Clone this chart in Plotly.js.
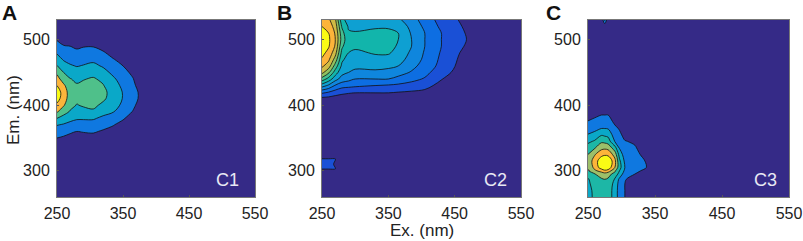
<!DOCTYPE html>
<html><head><meta charset="utf-8">
<script src="https://cdn.plot.ly/plotly-3.0.1.min.js"></script>
<style>html,body{margin:0;padding:0;background:#fff}#p{width:803px;height:241px}</style></head>
<body><div id="p"></div>
<script>
const xTicks=[250,350,450,550], yTicks=[300,400,500];
const panelLetters=['A','B','C'], componentNames=['C1','C2','C3'];

// C1: excitation columns, emission rows
const c1Ex=[250,260,270,280,290,305,320,335,350,365,375,550];
const c1Em=[260,340,350,360,370,380,390,400,410,420,430,440,450,460,470,480,490,500,510,530];
const c1Cols=[
[0,.6,1,1.5,2.05,3,4.1,4.8,5.4,5.5,5,4.4,3.8,3.05,2.4,1.9,1.3,.95,.6,0],
[0,.4,.85,1.4,1.9,2.6,3.4,4.1,4.5,4.6,4.2,3.5,3,2.4,1.9,1.5,1.05,.7,.4,0],
[0,.4,.8,1.1,1.7,2.3,2.9,3.3,3.5,3.5,3.3,3.05,2.5,2.1,1.7,1.3,1,.7,.4,0],
[0,.4,.7,1,1.6,2.1,2.6,2.95,3.2,3.2,3.1,2.8,2.4,1.95,1.6,1.2,.85,.6,.3,0],
[0,.4,.7,1.05,1.6,2.1,2.7,3.1,3.3,3.4,3.2,2.95,2.5,2.05,1.7,1.3,.95,.6,.3,0],
[0,.4,.7,1.1,1.6,2.1,2.85,3.2,3.4,3.5,3.4,3.1,2.7,2.2,1.8,1.4,.95,.6,.3,0],
[0,.3,.6,.9,1.3,1.8,2.3,2.8,3.15,3.25,3.05,2.8,2.3,1.9,1.5,1.1,.7,.4,.2,0],
[0,.1,.4,.7,1.05,1.5,2.05,2.4,2.6,2.6,2.4,2.15,1.8,1.4,1.05,.7,.4,.2,0,0],
[0,0,.2,.4,.7,1.1,1.5,1.8,1.95,1.95,1.8,1.6,1.3,1,.7,.4,.2,0,0,0],
[0,0,0,.2,.4,.6,.95,1.2,1.35,1.35,1.2,1.05,.8,.5,.3,.1,0,0,0,0],
[0,0,0,0,.1,.3,.5,.7,.9,.9,.7,.5,.3,.1,0,0,0,0,0,0],
[0,0,0,0,0,0,0,0,0,0,0,0,0,0,0,0,0,0,0,0]];
const c1Colors=['#352a87','#0f78e0','#0aa8c8','#4fc08a','#fbb53b','#f9fb15'];

// C2
const c2Ex=[250,260,270,280,290,300,330,350,365,385,405,430,450,470,485,550];
const c2Em=[260,295,303,310,318,325,405,412,420,430,440,450,460,470,480,490,500,510,520,530];
const c2Cols=[
[0,0,1.05,1.4,1.05,0,.5,1,2.3,4.5,6.6,8.3,9.2,9.9,10.3,10.6,10.8,10.6,10,9.5],
[0,0,1.05,1.3,1.05,0,.3,.9,2,3.8,5.6,7.2,8.5,9.2,9.7,10.1,10.2,10,9.6,9.2],
[0,0,1.03,.9,1.03,0,.2,.7,1.6,2.9,4.4,5.5,6.6,7.6,8.4,8.9,9,8.9,8.6,8.2],
[0,0,0,0,0,0,.1,.6,1.3,2.4,3.6,4.3,4.8,5.2,5.7,6.2,6.6,6.4,5.9,5.3],
[0,0,0,0,0,0,0,.4,1.2,2.3,3.3,4,4.3,4.6,5,5.2,5.3,5.1,4.9,4.6],
[0,0,0,0,0,0,0,.4,1.1,2.2,3,3.8,4.2,4.5,4.8,5.2,5.4,5.1,4.7,4.4],
[0,0,0,0,0,0,0,.4,1.1,2,3,3.8,4.3,4.7,5.1,5.3,5.4,5.2,4.9,4.5],
[0,0,0,0,0,0,0,.4,1.1,1.9,3,3.7,4.2,4.7,5.1,5.3,5.4,5.2,4.9,4.4],
[0,0,0,0,0,0,0,.3,1,1.8,2.7,3.4,4,4.4,4.7,4.9,5,5,4.7,4.2],
[0,0,0,0,0,0,0,.3,.9,1.6,2.3,2.9,3.3,3.6,3.8,4,4,3.9,3.7,3.4],
[0,0,0,0,0,0,0,.2,.8,1.3,1.9,2.3,2.6,2.8,2.9,3,3,3,2.8,2.6],
[0,0,0,0,0,0,0,0,.3,.7,1.05,1.4,1.7,1.8,1.9,2,2,2,1.8,1.6],
[0,0,0,0,0,0,0,0,.1,.3,.5,.85,1.03,1.15,1.25,1.35,1.4,1.35,1.25,1.15],
[0,0,0,0,0,0,0,0,0,0,.1,.2,.3,.4,.6,.85,.95,.9,.8,.6],
[0,0,0,0,0,0,0,0,0,0,0,0,0,0,.1,.2,.2,.2,.1,.1],
[0,0,0,0,0,0,0,0,0,0,0,0,0,0,0,0,0,0,0,0]];
const c2Colors=['#352a87','#1a50d6','#0d6ee2','#0f86dd','#0ea0d2','#12b5ab','#45bf8f','#90c05f','#d0bb45','#fcb43a','#f9fb15'];

// C3
const c3Ex=[250,260,270,275,280,290,297,305,320,337,350,550];
const c3Em=[260,270,280,287,295,300,305,315,325,335,345,355,365,375,385,395,520,530];
const c3Cols=[
[2.5,2.6,2.8,2.9,3.4,3.9,4.1,4.3,4,3.4,2.8,2.05,1.5,1.05,.6,.2,0,0],
[3.3,3.3,3.4,3.6,3.95,4.8,5.3,5.5,4.9,3.9,3.1,2.4,1.6,1.2,.85,.3,0,0],
[3.7,3.7,3.7,3.9,4.4,5.4,6.5,6.6,5.7,4.7,3.8,2.9,1.95,1.4,1,.4,0,0],
[3.7,3.7,3.8,4,4.6,5.8,6.9,7.1,5.8,4.8,3.7,2.8,1.95,1.4,1,.4,0,2.2],
[3.5,3.5,3.6,3.9,4.3,5.6,6.7,7,5.7,4.7,3.5,2.7,1.9,1.4,1,.4,0,0],
[2.6,2.6,2.7,2.9,3.7,4.2,5,5.3,4.6,3.4,1.95,1.5,1.2,.8,.4,.1,0,0],
[1.5,1.5,1.6,1.8,2.6,3,3.4,3.2,2.6,1.9,1.4,1.2,.9,.5,.2,0,0,0],
[1,1,1,1.05,1.5,1.8,2,1.8,1.5,1.3,1.05,.7,.4,.2,0,0,0,0],
[.2,.2,.4,.7,1,1.2,1.3,1.35,1.25,1.1,.85,.4,.2,0,0,0,0,0],
[0,0,0,.1,.5,.8,1,.95,.7,.4,.2,0,0,0,0,0,0,0],
[0,0,0,0,0,0,0,0,0,0,0,0,0,0,0,0,0,0],
[0,0,0,0,0,0,0,0,0,0,0,0,0,0,0,0,0,0]];
const c3Colors=['#352a87','#0f78e0','#0aa8c8','#1db7a6','#9cbf6a','#fcb43a','#f9fb15'];

const W=803,H=241;
const boxes=[[57,255],[322,521],[588,789]];
const FONT='"Liberation Sans", Arial, sans-serif';
const transpose=c=>c[0].map((_,r)=>c.map(col=>col[r]));
const stepScale=cols=>{const n=cols.length,s=[];cols.forEach((c,i)=>{s.push([i/n,c]);s.push([(i+1)/n,c]);});return s;};
const sets=[[c1Ex,c1Em,c1Cols,c1Colors],[c2Ex,c2Em,c2Cols,c2Colors],[c3Ex,c3Em,c3Cols,c3Colors]];
const data=sets.map((s,i)=>({type:'contour',x:s[0],y:s[1],z:transpose(s[2]),
  xaxis:i?'x'+(i+1):'x',yaxis:i?'y'+(i+1):'y',
  zmin:0,zmax:s[3].length,autocontour:false,
  contours:{start:1,end:s[3].length-1,size:1,coloring:'fill',showlines:true},
  line:{color:'#111',width:0.8,smoothing:1},
  colorscale:stepScale(s[3]),showscale:false,hoverinfo:'skip'}));
const layout={width:W,height:H,margin:{l:0,r:0,t:0,b:0},paper_bgcolor:'#fff',plot_bgcolor:'#352a87',showlegend:false,font:{family:FONT,size:16,color:'#222'},annotations:[]};
boxes.forEach((b,i)=>{
  const sx=i?String(i+1):'';
  const common={ticks:'inside',ticklen:2,tickwidth:1,tickcolor:'#555',showline:true,mirror:true,linecolor:'#777',linewidth:1,showgrid:false,zeroline:false,tickfont:{family:FONT,size:16,color:'#222'}};
  layout['xaxis'+sx]=Object.assign({domain:[b[0]/W,b[1]/W],range:[250,550],tickvals:xTicks,ticktext:xTicks.map(String),anchor:'y'+sx,ticklabelstandoff:2},common);
  layout['yaxis'+sx]=Object.assign({domain:[1-197/H,1-20/H],range:[260,530],tickvals:yTicks,ticktext:yTicks.map(String),anchor:'x'+sx,ticklabelstandoff:3},common);
  layout.annotations.push({xref:'paper',yref:'paper',x:[9,284.5,553][i]/W,y:1-12/H,text:'<b>'+panelLetters[i]+'</b>',showarrow:false,font:{family:FONT,size:21,color:'#111'},xanchor:'center',yanchor:'middle'});
  layout.annotations.push({xref:'paper',yref:'paper',x:[227,495,765][i]/W,y:1-180/H,text:componentNames[i],showarrow:false,font:{family:FONT,size:18,color:'#e8e8f4'},xanchor:'center',yanchor:'middle'});
});
layout.annotations.push({xref:'paper',yref:'paper',x:14/W,y:1-110/H,text:'Em. (nm)',textangle:-90,showarrow:false,font:{family:FONT,size:17,color:'#222'},xanchor:'center',yanchor:'middle'});
layout.annotations.push({xref:'paper',yref:'paper',x:421.7/W,y:1-230/H,text:'Ex. (nm)',showarrow:false,font:{family:FONT,size:17,color:'#222'},xanchor:'center',yanchor:'middle'});
Plotly.newPlot('p',data,layout,{displayModeBar:false,staticPlot:true});
</script></body></html>
